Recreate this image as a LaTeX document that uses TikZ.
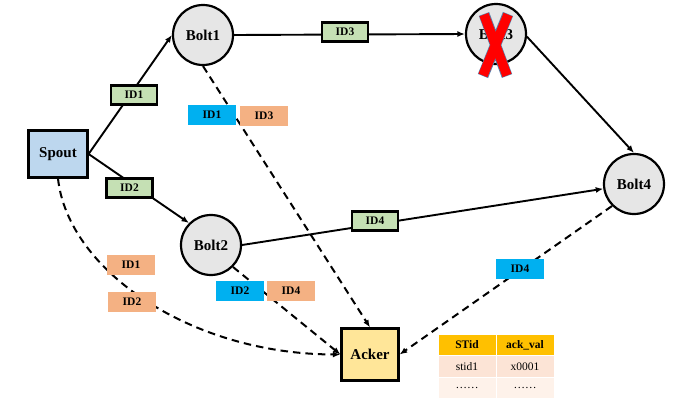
\documentclass[tikz,border=0pt]{standalone}
\usepackage{fontspec}
\setmainfont{Liberation Serif}
\usetikzlibrary{arrows.meta}

\definecolor{tagGreen}{HTML}{C5E0B4}
\definecolor{spoutBlue}{HTML}{BDD7EE}
\definecolor{boltGray}{HTML}{E6E6E6}
\definecolor{ackYellow}{HTML}{FFE699}
\definecolor{ackBlue}{HTML}{00B0F0}
\definecolor{ackOrange}{HTML}{F4B183}
\definecolor{headGold}{HTML}{FFC000}
\definecolor{rowPeach}{HTML}{FCE4D6}
\definecolor{rowLight}{HTML}{FEF2EA}
\definecolor{crossRed}{HTML}{FF0000}
\definecolor{crossEdge}{HTML}{5B7FA8}

\begin{document}
\begin{tikzpicture}[x=1pt,y=-1pt,
  bigfont/.style={font=\fontsize{15}{18}\selectfont\bfseries},
  smallfont/.style={font=\fontsize{11.5}{13}\selectfont\bfseries},
  bolt/.style={circle, draw, line width=2.2pt, fill=boltGray, minimum size=60pt, inner sep=0pt, bigfont},
  srcbox/.style={rectangle, draw, line width=2.2pt, fill=spoutBlue, minimum width=59pt, minimum height=47pt, inner sep=0pt, bigfont},
  ackbox/.style={rectangle, draw, line width=2.2pt, fill=ackYellow, minimum width=57pt, minimum height=52pt, inner sep=0pt, bigfont},
  tag/.style={rectangle, draw, line width=2.2pt, fill=tagGreen, minimum width=46pt, minimum height=19pt, inner sep=0pt, smallfont},
  flag/.style={rectangle, minimum width=48pt, minimum height=20pt, inner sep=0pt, smallfont},
  flagB/.style={flag, fill=ackBlue},
  flagO/.style={flag, fill=ackOrange},
  cell/.style={rectangle, draw=white, line width=0.8pt, minimum width=58pt, minimum height=21.5pt, inner sep=0pt, font=\fontsize{11.5}{13}\selectfont},
  flow/.style={line width=1.9pt, -{Latex[length=7.5pt,width=6pt]}},
  ackflow/.style={line width=2pt, dash pattern=on 7.5pt off 5pt, -{Latex[length=7.5pt,width=6pt]}}
]
\useasboundingbox (0,0) rectangle (677,402);

% topology nodes
\node[srcbox] (spout) at (58,154) {Spout};
\node[bolt] (bolt1) at (203,35) {Bolt1};
\node[bolt] (bolt2) at (211,245) {Bolt2};
\node[bolt] (bolt3) at (496,34) {Bolt3};
\node[bolt] (bolt4) at (634,184) {Bolt4};
\node[ackbox] (acker) at (370,354.5) {Acker};

% tuple streams
\draw[flow] (spout.east) -- (bolt1.west);
\draw[flow] (spout.east) -- (bolt2.north west);
\draw[flow] (bolt1.east) -- (bolt3.west);
\draw[flow] (bolt3.-5) -- (bolt4.north);
\draw[flow] (bolt2.east) -- (bolt4);

% acknowledgements sent to the acker
\draw[ackflow] (spout.south) .. controls (68,270) and (190,354) .. (acker.west);
\draw[ackflow] (bolt1.south) -- (acker.north);
\draw[ackflow] (bolt2.south east) -- (acker.west);
\draw[ackflow] (bolt4.south west) -- (acker.east);

% tuple ids on the streams
\node[tag] (t1) at (134,95) {ID1};
\node[tag] (t2) at (129.5,188) {ID2};
\node[tag] (t3) at (345,32) {ID3};
\node[tag] (t4) at (375,221) {ID4};

% ids reported to the acker
\node[flagB] (a1) at (212,115) {ID1};
\node[flagO] (a3) at (264,116) {ID3};
\node[flagO] (s1) at (131,265) {ID1};
\node[flagO] (s2) at (132,302) {ID2};
\node[flagB] (b2) at (240,291) {ID2};
\node[flagO] (b4) at (291,291) {ID4};
\node[flagB] (c4) at (520,269) {ID4};

% failed bolt
\draw[crossEdge, line width=11pt] (484,14) -- (507,76) (508,14) -- (483,76);
\draw[crossRed, line width=9.5pt] (484,14.6) -- (507,75.4) (508,14.6) -- (483,75.4);

% acker table
\node[cell, fill=headGold, font=\fontsize{11.5}{13}\selectfont\bfseries] (h1) at (467,345) {STid};
\node[cell, fill=headGold, font=\fontsize{11.5}{13}\selectfont\bfseries] (h2) at (525,345) {ack\_val};
\node[cell, fill=rowPeach] (r1) at (467,366.5) {stid1};
\node[cell, fill=rowPeach] (r2) at (525,366.5) {x0001};
\node[cell, fill=rowLight] (e1) at (467,388) {……};
\node[cell, fill=rowLight] (e2) at (525,388) {……};
\end{tikzpicture}
\end{document}
